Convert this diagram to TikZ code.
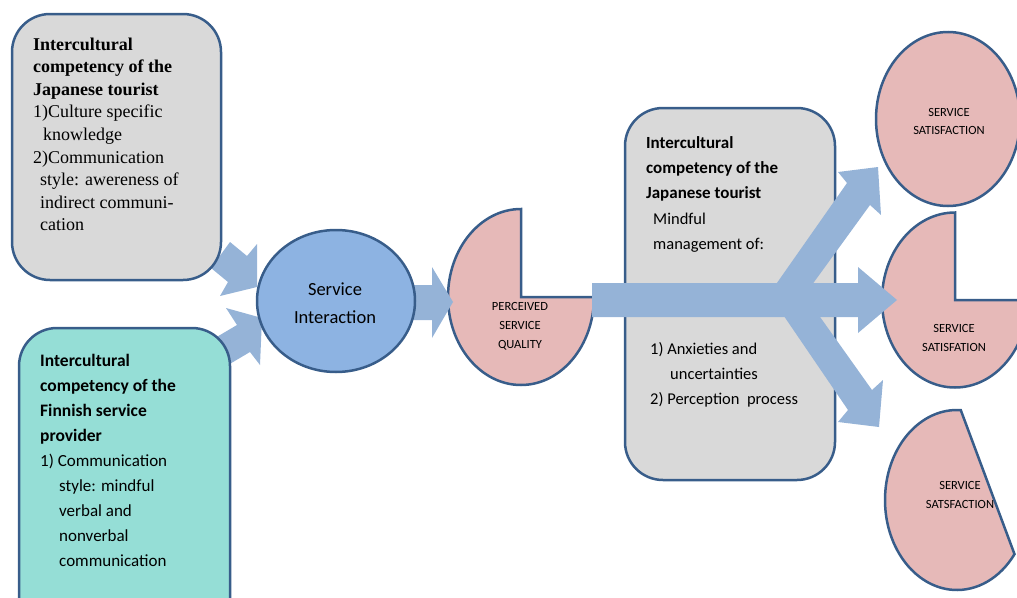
\documentclass[tikz,border=0pt]{standalone}
\usepackage{fontspec}
\setmainfont{Carlito}
\newfontfamily\serifjp{Liberation Serif}
\usetikzlibrary{shapes.geometric}
\definecolor{bord}{HTML}{385D8A}
\definecolor{grayfill}{HTML}{D9D9D9}
\definecolor{tealfill}{HTML}{95DED6}
\definecolor{bluefill}{HTML}{8DB3E2}
\definecolor{pinkfill}{HTML}{E6B9B8}
\definecolor{arrfill}{HTML}{95B3D7}
\begin{document}
\begin{tikzpicture}[x=1pt,y=-1pt,
  boxstyle/.style={draw=bord, line width=2.5pt, rounded corners=38pt, rectangle, inner sep=0pt},
  arrowfill/.style={fill=arrfill},
  pieshape/.style={draw=bord, line width=2.5pt, fill=pinkfill, line join=miter},
  txt/.style={inner sep=0pt, anchor=base west, text=black},
  ctxt/.style={inner sep=0pt, anchor=base, text=black}]
\useasboundingbox (0,0) rectangle (1017,597);

% small arrows into the ellipse (under boxes)
\fill[arrowfill] (230,242) -- (247,256) -- (257,244) -- (257,287) -- (220,296) -- (228,282) -- (211,268) -- cycle;
\fill[arrowfill] (215,338) -- (237,325) -- (226,308) -- (262,318) -- (260,365) -- (250,352) -- (228,365) -- cycle;

% left boxes
\node[boxstyle, fill=grayfill, minimum width=209pt, minimum height=266pt] (tlbox) at (116.5,147) {};
\node[boxstyle, fill=tealfill, minimum width=211pt, minimum height=320pt] (blbox) at (124.5,488) {};

% perceived service quality pie
\draw[pieshape] (521,297) -- ++(73,0) arc[start angle=0, end angle=270, x radius=73, y radius=88] -- cycle;
\coordinate (psq) at (521,297);

% arrow ellipse -> pie
\fill[arrowfill] (405,285) -- (432,285) -- (432,267) -- (453,302) -- (432,338) -- (432,320) -- (405,320) -- cycle;

% service interaction ellipse
\node[ellipse, draw=bord, line width=2.5pt, fill=bluefill, minimum width=158pt, minimum height=142pt, inner sep=0pt] (si) at (336,301) {};

% right box
\node[boxstyle, fill=grayfill, minimum width=210pt, minimum height=372pt] (rbox) at (730,294) {};

% right shapes
\node[ellipse, draw=bord, line width=2.5pt, fill=pinkfill, minimum width=144pt, minimum height=174pt, inner sep=0pt] (sat1) at (948,119) {};
\draw[pieshape] (955,300) -- ++(73,0) arc[start angle=0, end angle=270, x radius=73, y radius=87.5] -- cycle;
\draw[pieshape] (957,500) ++(-87:72 and 90) arc[start angle=-87, end angle=-323, x radius=72, y radius=90] -- cycle;

% big arrows
\fill[arrowfill] (592,283) -- (858,283) -- (858,267) -- (897,300) -- (858,333) -- (858,317) -- (592,317) -- cycle;
\fill[arrowfill] (765,300) -- (847,183) -- (838,172) -- (878,167) -- (881,215) -- (870,205) -- (801,300) -- cycle;
\fill[arrowfill] (773,300) -- (848,410) -- (838,422) -- (879,427) -- (883,380) -- (872,390) -- (808,300) -- cycle;

% texts
\node[txt] (tltext) at (33,50) {\parbox[t]{200pt}{\raggedright\serifjp\fontsize{18}{22.6}\selectfont
{\bfseries Intercultural\\competency of the\\Japanese tourist}\\
1)Culture specific\\\hspace*{10pt}knowledge\\
2)Communication\\\hspace*{7pt}style: awereness of\\\hspace*{7pt}indirect communi-\\\hspace*{7pt}cation}};

\node[txt] (bltext) at (40,366) {\parbox[t]{200pt}{\raggedright\fontsize{17.5}{25.1}\selectfont
{\bfseries Intercultural\\competency of the\\Finnish service\\provider}\\
\fontsize{17}{25.1}\selectfont 1) Communication\\\hspace*{19pt}style: mindful\\\hspace*{19pt}verbal and\\\hspace*{19pt}nonverbal\\\hspace*{19pt}communication}};

\node[txt] (rtext1) at (646,148) {\parbox[t]{200pt}{\raggedright\fontsize{17}{25.4}\selectfont
{\bfseries Intercultural\\competency of the\\Japanese tourist}\\
\fontsize{16.5}{25.4}\selectfont\hspace*{7pt}Mindful\\\hspace*{7pt}management of:}};

\node[txt] (rtext2) at (650,354) {\parbox[t]{200pt}{\raggedright\fontsize{16.5}{25}\selectfont
1) Anxieties and\\\hspace*{20pt}uncertainties\\2) Perception\ \ process}};

\node[ctxt] (sitext) at (335,295) {\parbox[t]{150pt}{\centering\fontsize{18.5}{28}\selectfont Service\\Interaction}};
\node[ctxt] (psqtext) at (520,310) {\parbox[t]{100pt}{\centering\fontsize{12.5}{19}\selectfont PERCEIVED\\SERVICE\\QUALITY}};
\node[ctxt] (sat1text) at (949,116) {\parbox[t]{120pt}{\centering\fontsize{12.5}{18.5}\selectfont SERVICE\\SATISFACTION}};
\node[ctxt] (sat2text) at (954,332) {\parbox[t]{120pt}{\centering\fontsize{12.5}{19}\selectfont SERVICE\\SATISFATION}};
\node[ctxt] (sat3text) at (960,489) {\parbox[t]{120pt}{\centering\fontsize{12.5}{19}\selectfont SERVICE\\SATSFACTION}};
\end{tikzpicture}
\end{document}
